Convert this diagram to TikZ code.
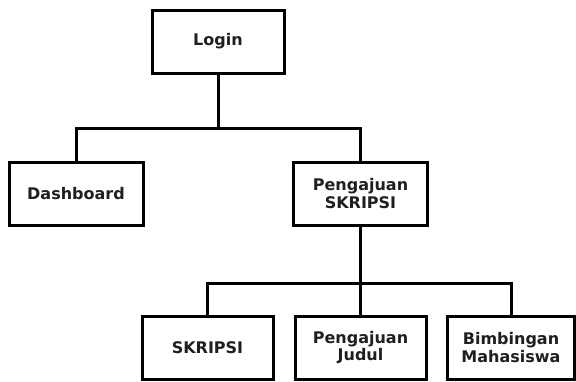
\documentclass[tikz,border=0pt]{standalone}
\usepackage{fontspec}
\setmainfont{DejaVu Sans}
\begin{document}
\begin{tikzpicture}[x=1pt,y=-1pt,
  box/.style={draw=black, line width=3pt, fill=white, minimum width=#1, minimum height=63pt, inner sep=0pt,
    align=center, text=black!88, font=\fontsize{16}{17.5}\selectfont\bfseries},
  box/.default=132pt,
  link/.style={draw=black, line width=3pt, line cap=rect}]
\useasboundingbox (0,0) rectangle (576,381);
\fill[white] (0,0) rectangle (576,381);
\coordinate (bus1) at (218,128);
\coordinate (bus2) at (360.5,283);
\node[box=132pt] (login) at (218,41.5) {Login};
\node[box=134pt] (dash) at (76,194) {Dashboard};
\node[box=134pt] (peng) at (360.5,193.5) {Pengajuan\\SKRIPSI};
\node[box=131pt] (skr) at (207.5,347.5) {SKRIPSI};
\node[box=131pt] (judul) at (360.5,347.5) {Pengajuan\\Judul};
\node[box=127pt] (bimb) at (511,347.5) {Bimbingan\\Mahasiswa};
\draw[link] (login.south) -- (bus1);
\draw[link] (dash.north) |- (bus1);
\draw[link] (peng.north) |- (bus1);
\draw[link] (peng.south) -- (bus2);
\draw[link] (skr.north) |- (bus2);
\draw[link] (judul.north) -- (bus2);
\draw[link] (bimb.north) |- (bus2);
\end{tikzpicture}
\end{document}
